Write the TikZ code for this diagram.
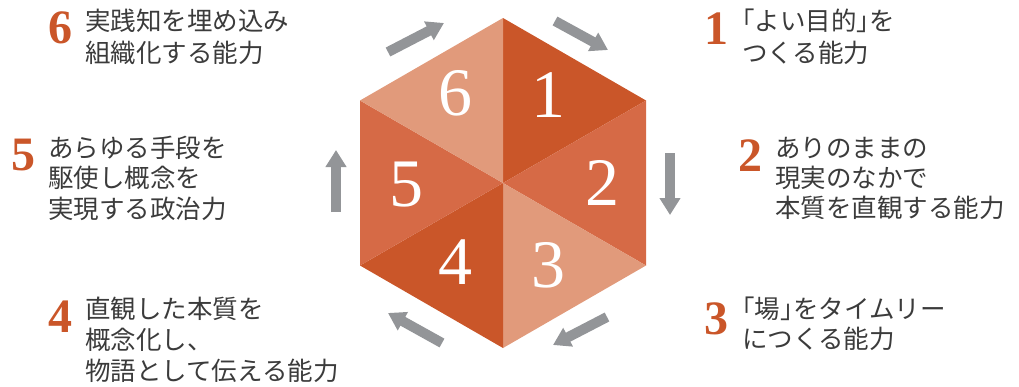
\documentclass[tikz,border=0pt]{standalone}
\usepackage{fontspec}
\setmainfont{Liberation Serif}
\newfontfamily\jp{Noto Sans CJK JP}
\newfontfamily\jpp[RawFeature=+palt]{Noto Sans CJK JP}
\usetikzlibrary{arrows.meta}
\definecolor{odark}{HTML}{CA5629}
\definecolor{omid}{HTML}{D66A46}
\definecolor{olight}{HTML}{E19A7B}
\definecolor{agray}{HTML}{939598}
\definecolor{tgray}{HTML}{3B3B3B}
\begin{document}
\begin{tikzpicture}[x=1pt,y=-1pt,
  garrow/.style={draw=agray, line width=10pt, -{Triangle[length=17pt,width=20pt]}},
  bignum/.style={text=white, inner sep=0pt, font=\fontsize{68}{68}\selectfont},
  onum/.style={text=odark, inner sep=0pt, font=\bfseries\fontsize{48}{48}\selectfont},
  jline/.style={text=tgray, inner sep=0pt, anchor=base west, font=\jp\fontsize{25.5}{30}\selectfont}]
\useasboundingbox (0,0) rectangle (1019,386);
% hexagon vertices
\coordinate (C) at (503,183);
\coordinate (T) at (503,18);
\coordinate (UR) at (646,100.5);
\coordinate (LR) at (646,265.5);
\coordinate (B) at (503,348);
\coordinate (LL) at (360,265.5);
\coordinate (UL) at (360,100.5);
\fill[odark] (C) -- (T) -- (UR) -- cycle;
\fill[omid] (C) -- (UR) -- (LR) -- cycle;
\fill[olight] (C) -- (LR) -- (B) -- cycle;
\fill[odark] (C) -- (B) -- (LL) -- cycle;
\fill[omid] (C) -- (LL) -- (UL) -- cycle;
\fill[olight] (C) -- (UL) -- (T) -- cycle;
% big numbers
\node[bignum] (n1) at (548,95) {1};
\node[bignum] (n2) at (602,183) {2};
\node[bignum] (n3) at (548,265) {3};
\node[bignum] (n4) at (455,262) {4};
\node[bignum] (n5) at (406,185) {5};
\node[bignum] (n6) at (455,93) {6};
% arrows
\coordinate (a12s) at (555,21);  \coordinate (a12e) at (608,50);
\coordinate (a23s) at (670,153); \coordinate (a23e) at (670,215);
\coordinate (a34s) at (607,317); \coordinate (a34e) at (553,345);
\coordinate (a45s) at (442,343); \coordinate (a45e) at (388,313);
\coordinate (a56s) at (336,212); \coordinate (a56e) at (336,150);
\coordinate (a61s) at (388,52);  \coordinate (a61e) at (444,23);
\draw[garrow] (a12s) -- (a12e);
\draw[garrow] (a23s) -- (a23e);
\draw[garrow] (a34s) -- (a34e);
\draw[garrow] (a45s) -- (a45e);
\draw[garrow] (a56s) -- (a56e);
\draw[garrow] (a61s) -- (a61e);
% block 6
\node[onum] (o6) at (60,28) {6};
\node[jline] (t6a) at (85,30) {実践知を埋め込み};
\node[jline] (t6b) at (85,62) {組織化する能力};
% block 1
\node[onum] (o1) at (716,29) {1};
\node[jline] (t1a) at (742,30) {{\jpp「}よい目的{\jpp」}を};
\node[jline] (t1b) at (742,62) {つくる能力};
% block 5
\node[onum] (o5) at (23,155) {5};
\node[jline] (t5a) at (48,157) {あらゆる手段を};
\node[jline] (t5b) at (48,187.5) {駆使し概念を};
\node[jline] (t5c) at (48,218) {実現する政治力};
% block 2
\node[onum] (o2) at (750,156) {2};
\node[jline] (t2a) at (775,157) {ありのままの};
\node[jline] (t2b) at (775,187) {現実のなかで};
\node[jline] (t2c) at (775,217) {本質を直観する能力};
% block 4
\node[onum] (o4) at (60,317) {4};
\node[jline] (t4a) at (85,318) {直観した本質を};
\node[jline] (t4b) at (85,349) {概念化し、};
\node[jline] (t4c) at (85,380) {物語として伝える能力};
% block 3
\node[onum] (o3) at (716,319) {3};
\node[jline] (t3a) at (742,318) {{\jpp「}場{\jpp」}をタイムリー};
\node[jline] (t3b) at (742,348) {につくる能力};
\end{tikzpicture}
\end{document}
